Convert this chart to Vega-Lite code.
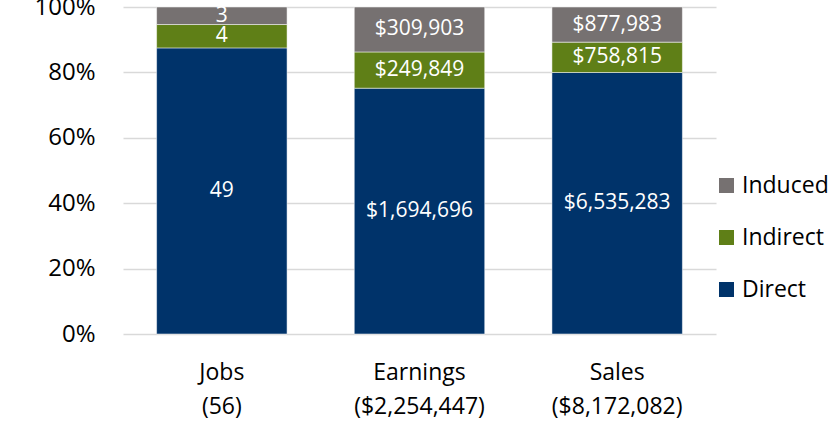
{
  "$schema": "https://vega.github.io/schema/vega-lite/v6.json",
  "width": 593,
  "height": 327,
  "autosize": {"type": "none"},
  "padding": {"left": 123, "top": 7, "right": 124, "bottom": 87},
  "background": "white",
  "config": {"view": {"stroke": null}, "font": "Open Sans"},
  "data": {
    "values": [
      {"category": "Jobs (56)", "type": "Direct", "rank": 1, "value": 49, "label": "49"},
      {"category": "Jobs (56)", "type": "Indirect", "rank": 2, "value": 4, "label": "4"},
      {"category": "Jobs (56)", "type": "Induced", "rank": 3, "value": 3, "label": "3"},
      {"category": "Earnings ($2,254,447)", "type": "Direct", "rank": 1, "value": 1694696, "label": "$1,694,696"},
      {"category": "Earnings ($2,254,447)", "type": "Indirect", "rank": 2, "value": 249849, "label": "$249,849"},
      {"category": "Earnings ($2,254,447)", "type": "Induced", "rank": 3, "value": 309903, "label": "$309,903"},
      {"category": "Sales ($8,172,082)", "type": "Direct", "rank": 1, "value": 6535283, "label": "$6,535,283"},
      {"category": "Sales ($8,172,082)", "type": "Indirect", "rank": 2, "value": 758815, "label": "$758,815"},
      {"category": "Sales ($8,172,082)", "type": "Induced", "rank": 3, "value": 877983, "label": "$877,983"}
    ]
  },
  "encoding": {
    "x": {
      "field": "category",
      "type": "nominal",
      "sort": null,
      "scale": {"paddingInner": 0.34, "paddingOuter": 0.17},
      "axis": {
        "title": null,
        "labelAngle": 0,
        "labelExpr": "split(datum.value, ' ')",
        "labelFontSize": 23,
        "labelColor": "#000000",
        "labelLineHeight": 34,
        "labelPadding": 27,
        "ticks": false,
        "domain": false,
        "grid": false
      }
    }
  },
  "layer": [
    {
      "mark": {"type": "bar", "stroke": "white", "strokeWidth": 0.5},
      "encoding": {
        "y": {
          "field": "value",
          "type": "quantitative",
          "stack": "normalize",
          "scale": {"domain": [0, 1]},
          "axis": {
            "title": null,
            "format": ".0%",
            "values": [0, 0.2, 0.4, 0.6, 0.8, 1],
            "labelOverlap": false,
            "labelBound": false,
            "labelFontSize": 24,
            "labelColor": "#000000",
            "labelPadding": 28,
            "ticks": false,
            "domain": false,
            "gridColor": "#d9d9d9",
            "gridWidth": 1.5
          }
        },
        "color": {
          "field": "type",
          "type": "nominal",
          "scale": {"domain": ["Induced", "Indirect", "Direct"], "range": ["#767171", "#5f7f17", "#00336a"]},
          "legend": {
            "title": null,
            "orient": "none",
            "legendX": 592,
            "legendY": 167,
            "symbolType": "square",
            "symbolSize": 225,
            "symbolStrokeWidth": 0,
            "labelFontSize": 23,
            "labelColor": "#000000",
            "rowPadding": 28,
            "labelOffset": 4
          }
        },
        "order": {"field": "rank", "type": "quantitative"}
      }
    },
    {
      "mark": {"type": "text", "color": "white", "fontSize": 21, "baseline": "middle"},
      "encoding": {
        "y": {"field": "value", "type": "quantitative", "stack": "normalize", "bandPosition": 0.5},
        "detail": {"field": "type"},
        "order": {"field": "rank", "type": "quantitative"},
        "text": {"field": "label"}
      }
    }
  ]
}
